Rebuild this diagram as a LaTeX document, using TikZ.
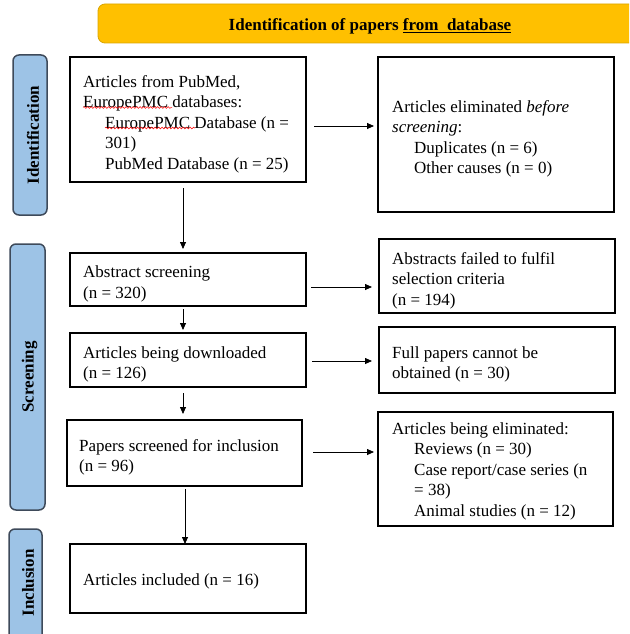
\documentclass[tikz,border=0pt]{standalone}
\usepackage{fontspec}
\setmainfont{Liberation Serif}
\usetikzlibrary{arrows.meta,decorations.pathmorphing}
\definecolor{gold}{HTML}{FFC000}
\definecolor{goldline}{HTML}{D9A400}
\definecolor{sideblue}{HTML}{9DC3E6}
\definecolor{sideline}{HTML}{3E4A5A}
\begin{document}
\begin{tikzpicture}[x=1pt,y=-1pt,
 box/.style={draw=black, line width=1.1pt, rectangle, inner sep=0pt,
   outer sep=0pt, anchor=north west},
 txt/.style={anchor=west, align=left, inner sep=0pt, font=\fontsize{17}{20.5}\selectfont},
 side/.style={draw=sideline, fill=sideblue, line width=1.5pt, rounded corners=6pt,
   outer sep=0pt, anchor=north west, inner sep=0pt},
 sidetext/.style={rotate=90, font=\bfseries\fontsize{17}{20}\selectfont},
 arr/.style={-{Triangle[length=7pt,width=6pt]}, line width=0.8pt},
 spell/.style={red, line width=0.5pt, decorate,
   decoration={snake, amplitude=0.9pt, segment length=3.5pt}}
]
\useasboundingbox (0,0) rectangle (629,634);
\clip (0,0) rectangle (629,634);

% banner
\node[draw=goldline, fill=gold, line width=0.8pt, rounded corners=7pt, anchor=north west,
  minimum width=547pt, minimum height=39pt, outer sep=0pt, inner sep=0pt] (T) at (98,4) {};
\node[font=\bfseries\fontsize{17}{20}\selectfont] (Ttext) at (370,26)
  {Identification of papers \underline{from\ \ database}};

% side labels
\node[side, minimum width=34pt, minimum height=160pt] (S1) at (13,55) {};
\node[sidetext] (S1t) at ([xshift=3pt]S1.center) {Identification};
\node[side, minimum width=35pt, minimum height=266pt] (S2) at (10,244) {};
\node[sidetext] (S2t) at ([xshift=2pt]S2.center) {Screening};
\node[side, minimum width=33pt, minimum height=120pt] (S3) at (9,529) {};
\node[sidetext] (S3t) at (28,583) {Inclusion};

% left column boxes
\node[box, minimum width=236pt, minimum height=125pt] (A1) at (70,57) {};
\node[box, minimum width=236pt, minimum height=53pt] (A2) at (70,253) {};
\node[box, minimum width=236pt, minimum height=54pt] (A3) at (70,333) {};
\node[box, minimum width=235pt, minimum height=66pt] (A4) at (67,420) {};
\node[box, minimum width=236pt, minimum height=69pt] (A5) at (70,544) {};
% right column boxes
\node[box, minimum width=236pt, minimum height=155pt] (B1) at (378,57) {};
\node[box, minimum width=236pt, minimum height=74pt] (B2) at (379,239) {};
\node[box, minimum width=236pt, minimum height=66pt] (B3) at (379,327) {};
\node[box, minimum width=235pt, minimum height=114pt] (B4) at (378,412) {};

% texts
\node[txt] (A1t) at ([xshift=13pt,yshift=-4.5pt]A1.west)
 {Articles from PubMed,\\
  EuropePMC databases:\\
  \hspace*{22pt}EuropePMC Database (n =\\
  \hspace*{22pt}301)\\
  \hspace*{22pt}PubMed Database (n = 25)};
\node[txt] (A2t) at ([xshift=13pt,yshift=-4.5pt]A2.west) {Abstract screening\\(n = 320)};
\node[txt] (A3t) at ([xshift=13pt,yshift=-4.5pt]A3.west) {Articles being downloaded\\(n = 126)};
\node[txt] (A4t) at ([xshift=12pt,yshift=-4.5pt]A4.west) {Papers screened for inclusion\\(n = 96)};
\node[txt] (A5t) at ([xshift=13pt,yshift=-3pt]A5.west) {Articles included (n = 16)};
\node[txt] (B1t) at ([xshift=14pt,yshift=-4.5pt]B1.west)
 {Articles eliminated \textit{before}\\
  \textit{screening}:\\
  \hspace*{22pt}Duplicates (n = 6)\\
  \hspace*{22pt}Other causes (n = 0)};
\node[txt] (B2t) at ([xshift=13pt,yshift=-4.5pt]B2.west)
 {Abstracts failed to fulfil\\selection criteria\\(n = 194)};
\node[txt] (B3t) at ([xshift=13pt,yshift=-4.5pt]B3.west)
 {Full papers cannot be\\obtained (n = 30)};
\node[txt] (B4t) at ([xshift=14pt,yshift=-2pt]B4.west)
 {Articles being eliminated:\\
  \hspace*{22pt}Reviews (n = 30)\\
  \hspace*{22pt}Case report/case series (n\\
  \hspace*{22pt}= 38)\\
  \hspace*{22pt}Animal studies (n = 12)};

% spell-check marks
\draw[spell] (83,107.5) -- (172,107.5);
\draw[spell] (105,128) -- (195,128);

% vertical arrows
\coordinate (vx) at (183,0);
\coordinate (vx2) at (185,0);
\draw[arr, shorten <=6pt, shorten >=4pt] (A1.south -| vx) -- (A2.north -| vx);
\draw[arr, shorten <=3pt, shorten >=3pt] (A2.south -| vx) -- (A3.north -| vx);
\draw[arr, shorten <=6pt, shorten >=6pt] (A3.south -| vx) -- (A4.north -| vx);
\draw[arr, shorten <=3pt, shorten >=0pt] (A4.south -| vx2) -- (A5.north -| vx2);

% horizontal arrows
\coordinate (h1) at (0,126);
\coordinate (h2) at (0,287);
\coordinate (h3) at (0,361);
\coordinate (h4) at (0,452);
\draw[arr, shorten <=8pt, shorten >=4pt] (A1.east |- h1) -- (B1.west |- h1);
\draw[arr, shorten <=5pt, shorten >=7pt] (A2.east |- h2) -- (B2.west |- h2);
\draw[arr, shorten <=6pt, shorten >=7pt] (A3.east |- h3) -- (B3.west |- h3);
\draw[arr, shorten <=11pt, shorten >=4pt] (A4.east |- h4) -- (B4.west |- h4);
\end{tikzpicture}
\end{document}
